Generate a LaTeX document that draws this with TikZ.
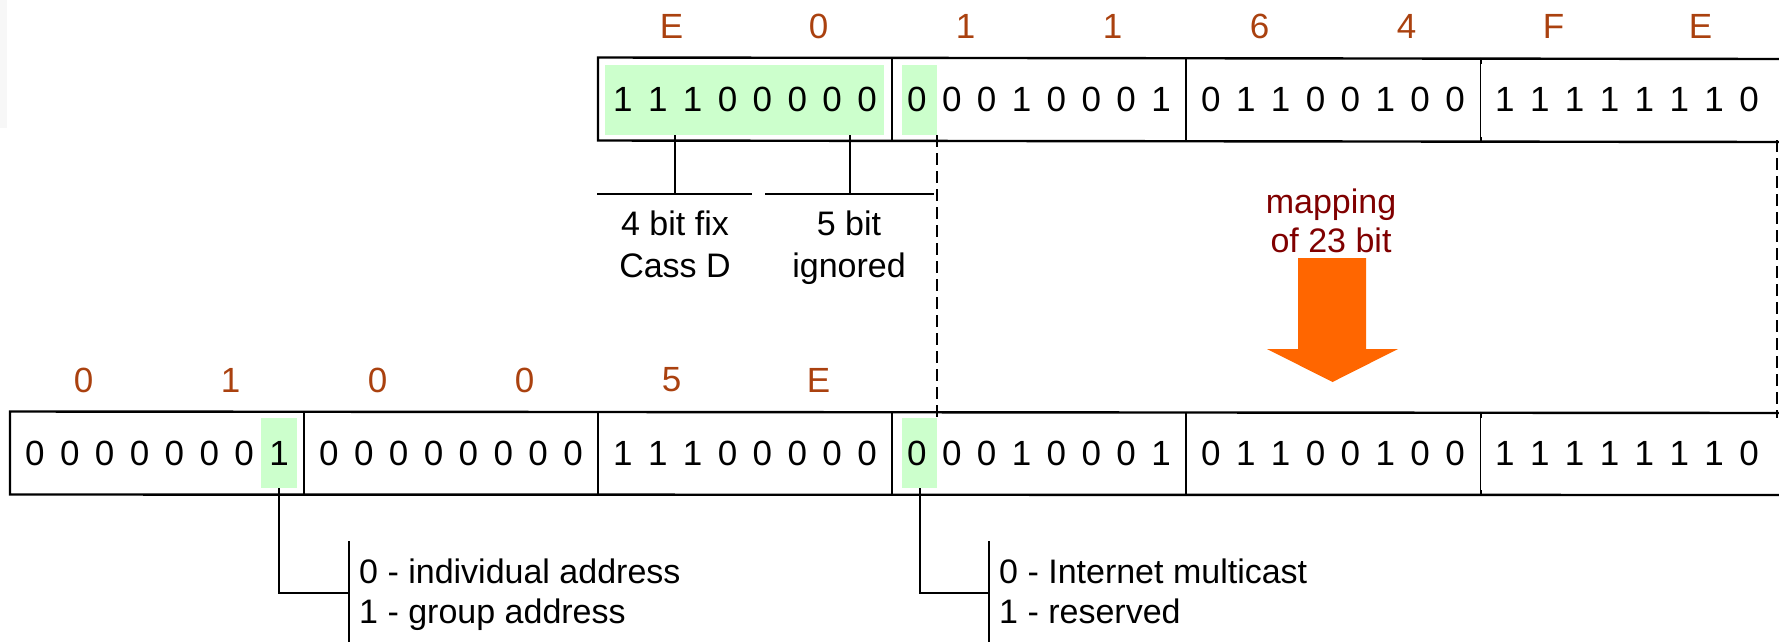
\documentclass[tikz,border=0pt]{standalone}
\usepackage{fontspec}
\setmainfont{Liberation Sans}
\definecolor{hexc}{RGB}{170,65,15}
\definecolor{mapc}{RGB}{128,0,0}
\definecolor{hl}{RGB}{204,255,204}
\definecolor{arr}{RGB}{255,102,0}
\def\bitsA#1{\ifx#1\relax\else\makebox[34.9pt]{#1}\expandafter\bitsA\fi}
\newcommand\bitrow[1]{\expandafter\bitsA#1\relax}
\begin{document}
\begin{tikzpicture}[x=1pt,y=-1pt,
  cell/.style={inner sep=0pt,outer sep=0pt,minimum width=294pt,minimum height=83pt,font=\fontsize{35}{42}\selectfont},
  hexsty/.style={inner sep=0pt,text=hexc,font=\fontsize{35}{42}\selectfont},
  lbl/.style={inner sep=0pt,font=\fontsize{34}{41}\selectfont},
  maplbl/.style={inner sep=0pt,text=mapc,font=\fontsize{34}{41}\selectfont},
  hlbox/.style={fill=hl,draw=none,inner sep=0pt,outer sep=0pt},
  frame/.style={line width=2.4pt},
  sepl/.style={line width=2pt},
  thinsep/.style={line width=0.8pt},
  ann/.style={line width=2pt},
  dsh/.style={line width=2.6pt,dash pattern=on 12pt off 6pt}]
\useasboundingbox (0,0) rectangle (1779,641);
\fill[black!3] (0,0) rectangle (7,128);
% highlights
\node[hlbox,minimum width=279pt,minimum height=70pt] (gt1) at (744.5,100) {};
\node[hlbox,minimum width=35pt,minimum height=70pt] (gt2) at (919.5,100) {};
\node[hlbox,minimum width=36pt,minimum height=70pt] (gl1) at (279,453) {};
\node[hlbox,minimum width=35pt,minimum height=70pt] (gl2) at (919.5,453) {};
% top row
\foreach \k/\bb/\ha/\hb in {0/11100000/E/0,1/00010001/1/1,2/01100100/6/4,3/11111110/F/E}{
  \node[cell] (uc\k) at ({598+294*\k+147},99) {\bitrow{\bb}};
  \node[hexsty] (uha\k) at ({598+294*\k+73.5},26) {\ha};
  \node[hexsty] (uhb\k) at ({598+294*\k+220.5},26) {\hb};
}
% lower row
\foreach \k/\bb/\ha/\hb in {0/00000001/0/1,1/00000000/0/0,2/11100000/5/E,3/00010001/1/1,4/01100100/6/4,5/11111110/F/E}{
  \node[cell] (lc\k) at ({10+294*\k+147},453) {\bitrow{\bb}};
}
\node[hexsty] (lha0) at (83.5,380) {0};
\node[hexsty] (lhb0) at (230.5,380) {1};
\node[hexsty] (lha1) at (377.5,380) {0};
\node[hexsty] (lhb1) at (524.5,380) {0};
\node[hexsty] (lha2) at (671.5,380) {5};
\node[hexsty] (lhb2) at (818.5,380) {E};
% frames
\draw[frame] (1782,59) -- (uc0.north west) -- (uc0.south west) -- (1782,142);
\draw[sepl] (uc1.north west) -- (uc1.south west);
\draw[sepl] (uc2.north west) -- (uc2.south west);
\draw[thinsep] (uc3.north west) -- (uc3.south west);
\draw[sepl] (1481,59) -- ++(0,5) (1481,142) -- ++(0,-5);
\draw[frame] (1782,413) -- (lc0.north west) -- (lc0.south west) -- (1782,495);
\foreach \k in {1,2,3,4}{\draw[sepl] (lc\k.north west) -- (lc\k.south west);}
\draw[thinsep] (lc5.north west) -- (lc5.south west);
\draw[sepl] (1481,413) -- ++(0,5) (1481,495) -- ++(0,-5);
% top annotations
\coordinate (ta) at (675,135);
\coordinate (tb) at (850,135);
\draw[ann] (ta) -- (675,194);
\draw[ann] (tb) -- (850,194);
\draw[ann] (597,194) -- (752,194);
\draw[ann] (765,194) -- (934,194);
\node[lbl,anchor=base] (fix1) at (675,235) {4 bit fix};
\node[lbl,anchor=base] (fix2) at (675,277) {Cass D};
\node[lbl,anchor=base] (ign1) at (849,235) {5 bit};
\node[lbl,anchor=base] (ign2) at (849,277) {ignored};
% dashed lines
\draw[dsh] (gt2.south east) -- (gl2.north east);
\coordinate (r1) at (1777,140);
\coordinate (r2) at (1777,418);
\draw[dsh] (r1) -- (r2);
% mapping
\node[maplbl,anchor=base] (map1) at (1331,213) {mapping};
\node[maplbl,anchor=base] (map2) at (1331,252) {of 23 bit};
\fill[arr] (1298,258) -- (1366,258) -- (1366,349) -- (1398,349) -- (1332.5,382) -- (1267,349) -- (1298,349) -- cycle;
% bottom annotations
\draw[ann] (gl1.south) -- (279,593) -- (349,593);
\draw[ann] (349,541) -- (349,645);
\node[lbl,anchor=base west] (ind1) at (359,583) {0 - individual address};
\node[lbl,anchor=base west] (ind2) at (359,623) {1 - group address};
\draw[ann] (gl2.south) -- (919.5,593) -- (989,593);
\draw[ann] (989,541) -- (989,645);
\node[lbl,anchor=base west] (mc1) at (999,583) {0 - Internet multicast};
\node[lbl,anchor=base west] (mc2) at (999,623) {1 - reserved};
\end{tikzpicture}
\end{document}
